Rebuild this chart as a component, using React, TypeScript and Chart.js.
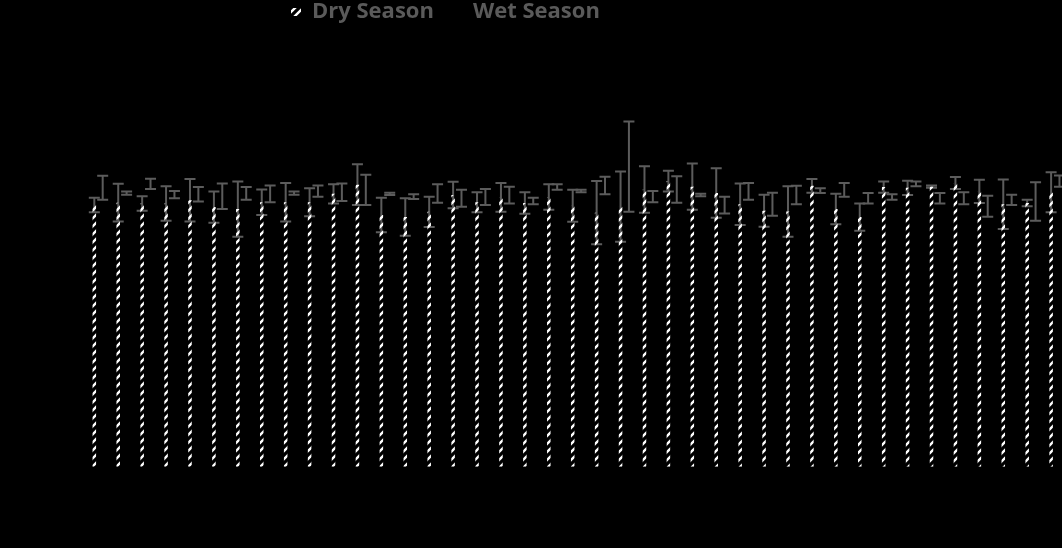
import React, { useEffect, useRef } from "react";
import { Chart, registerables } from "chart.js";

Chart.register(...registerables);

// Sampling sites along the x axis (axis labels are hidden)
const sites = [
  "1", "2", "3", "4", "5", "6", "7", "8", "9", "10",
  "11", "12", "13", "14", "15", "16", "17", "18", "19", "20",
  "21", "22", "23", "24", "25", "26", "27", "28", "29", "30",
  "31", "32", "33", "34", "35", "36", "37", "38", "39", "40",
  "41",
];

// Dry season means and standard errors
const dryMean = [
  65.4, 66.0, 65.8, 65.8, 66.6, 64.9, 64.4, 66.1, 66.1, 66.1,
  68.2, 70.5, 62.9, 62.4, 63.7, 67.9, 66.1, 67.3, 65.9, 67.4,
  65.2, 63.5, 65.0, 69.3, 71.4, 70.0, 68.4, 65.6, 64.0, 63.8,
  70.2, 64.4, 62.4, 69.9, 69.7, 70.0, 70.9, 68.8, 65.6, 65.9,
  68.6,
];
const dryErr = [
  1.8, 4.7, 1.8, 4.3, 5.3, 3.9, 6.9, 3.2, 4.8, 3.5,
  2.4, 5.1, 4.3, 4.7, 3.8, 3.3, 2.5, 3.6, 2.7, 3.2,
  4.0, 7.9, 8.8, 5.8, 2.6, 5.8, 6.2, 5.2, 4.0, 6.3,
  1.7, 3.8, 3.4, 1.4, 1.8, 0.3, 1.5, 2.9, 6.2, 0.8,
  5.0,
];

// Wet season means and standard errors
const wetMean = [
  69.7, 68.4, 70.7, 68.0, 68.1, 67.6, 68.3, 68.2, 68.4, 68.9,
  68.6, 69.2, 68.2, 67.5, 68.3, 67.1, 67.4, 67.9, 66.4, 69.9,
  68.9, 70.3, 75.0, 67.5, 69.3, 67.9, 65.4, 68.8, 65.6, 67.9,
  69.0, 69.2, 67.1, 67.4, 70.7, 67.1, 67.1, 65.1, 66.7, 66.3,
  71.4,
];
const wetErr = [
  3.0, 0.4, 1.3, 0.9, 1.8, 3.2, 1.6, 2.1, 0.4, 1.4,
  2.2, 3.8, 0.3, 0.6, 2.3, 2.1, 2.0, 2.1, 0.8, 0.7,
  0.3, 2.2, 11.3, 1.4, 3.3, 0.3, 2.1, 2.1, 2.9, 2.3,
  0.6, 1.7, 1.3, 0.7, 0.6, 1.3, 1.5, 2.6, 1.3, 4.8,
  1.4,
];

const seriesNames = ["Dry Season", "Wet Season"];

const ERR_COLOR = "#5c5c5c";
const TEXT_COLOR = "#5a5a5a";
const LEGEND_X = 291;
const LEGEND_PAD = 18;

// Diagonal white stripes used to fill the dry-season bars
function makeHatch(ctx: CanvasRenderingContext2D): CanvasPattern | string {
  const tile = document.createElement("canvas");
  tile.width = 8;
  tile.height = 8;
  const t = tile.getContext("2d");
  if (!t) return "#fff";
  t.strokeStyle = "#ffffff";
  t.lineWidth = 2.4;
  t.lineCap = "square";
  t.beginPath();
  t.moveTo(0, 8);
  t.lineTo(8, 0);
  t.moveTo(-2, 2);
  t.lineTo(2, -2);
  t.moveTo(6, 10);
  t.lineTo(10, 6);
  t.stroke();
  return ctx.createPattern(tile, "repeat") || "#fff";
}

// Mean ± error whiskers, drawn underneath the bars
const errorBars = {
  id: "errorBars",
  beforeDatasetsDraw(chart: any) {
    const { ctx } = chart;
    const y = chart.scales.y;
    ctx.save();
    ctx.strokeStyle = ERR_COLOR;
    ctx.lineWidth = 2;
    chart.data.datasets.forEach((ds: any, i: number) => {
      const meta = chart.getDatasetMeta(i);
      meta.data.forEach((bar: any, j: number) => {
        const v = ds.data[j];
        const e = ds.errors[j];
        const x = bar.x;
        const top = y.getPixelForValue(v + e);
        const bot = y.getPixelForValue(v - e);
        const half = 5.5;
        ctx.beginPath();
        ctx.moveTo(x, top);
        ctx.lineTo(x, bot);
        ctx.moveTo(x - half, top);
        ctx.lineTo(x + half, top);
        ctx.moveTo(x - half, bot);
        ctx.lineTo(x + half, bot);
        ctx.stroke();
      });
    });
    ctx.restore();
  },
};

// Places the legend row at a fixed left offset
const legendPlacement = {
  id: "legendPlacement",
  afterLayout(chart: any) {
    const lg = chart.legend;
    if (lg) lg.left = LEGEND_X - LEGEND_PAD;
  },
};

export default function App() {
  const canvasRef = useRef<HTMLCanvasElement | null>(null);

  useEffect(() => {
    const canvas = canvasRef.current;
    if (!canvas) return;
    const ctx = canvas.getContext("2d");
    if (!ctx) return;
    const hatch = makeHatch(ctx);

    const chart = new Chart(canvas, {
      type: "bar",
      data: {
        labels: sites,
        datasets: [
          {
            label: seriesNames[0],
            data: dryMean,
            errors: dryErr,
            backgroundColor: hatch,
            borderWidth: 0,
            categoryPercentage: 0.7,
            barPercentage: 0.42,
          } as any,
          {
            label: seriesNames[1],
            data: wetMean,
            errors: wetErr,
            backgroundColor: "rgba(0,0,0,0)",
            borderWidth: 0,
            categoryPercentage: 0.7,
            barPercentage: 0.42,
          } as any,
        ],
      },
      options: {
        responsive: false,
        animation: false,
        events: [],
        layout: {
          padding: { left: 86.54, right: 2.74, top: 0, bottom: 81.3 },
        },
        scales: {
          x: { display: false, grid: { display: false } },
          y: { display: false, min: 0, max: 108.4, grid: { display: false } },
        },
        plugins: {
          tooltip: { enabled: false },
          legend: {
            position: "top",
            align: "start",
            labels: {
              boxWidth: 10,
              boxHeight: 8,
              padding: LEGEND_PAD,
              color: TEXT_COLOR,
              font: { family: "'Open Sans', sans-serif", size: 22, weight: "bold" },
            },
          },
        },
      },
      plugins: [errorBars, legendPlacement],
    });

    return () => chart.destroy();
  }, []);

  return (
    <div
      style={{
        position: "fixed",
        left: 0,
        top: 0,
        width: "100vw",
        height: "100vh",
        background: "#000",
        overflow: "hidden",
      }}
    >
      <div style={{ position: "absolute", left: 0, top: -17, width: 1070, height: 565 }}>
        <canvas ref={canvasRef} width={1070} height={565} style={{ width: 1070, height: 565, display: "block" }} />
      </div>
    </div>
  );
}
